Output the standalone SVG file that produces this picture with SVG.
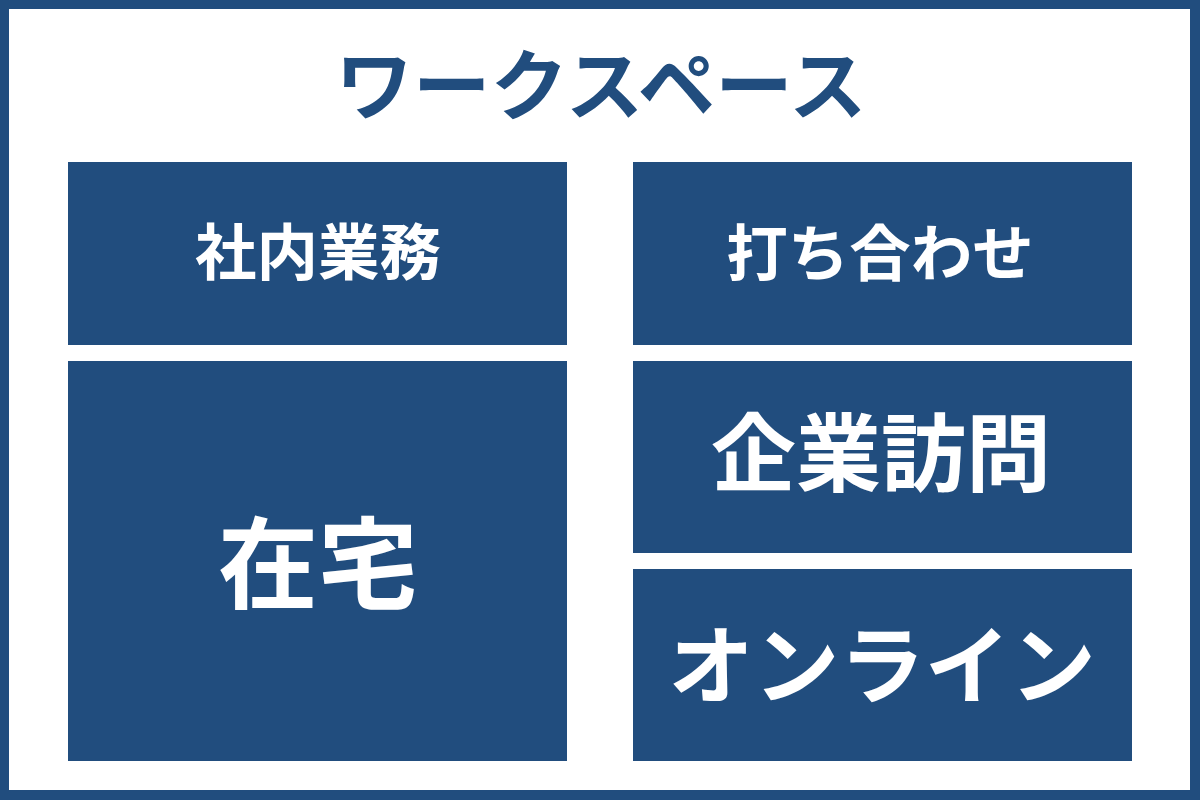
<svg xmlns="http://www.w3.org/2000/svg" width="1200" height="800" viewBox="0 0 1200 800">
<style>
.box{fill:#214d7e}
.t{font-family:"Noto Sans CJK JP","Noto Sans CJK SC",sans-serif;font-weight:700;text-anchor:middle;fill:#ffffff}
</style>
<rect x="0" y="0" width="1200" height="800" fill="#214d7e"/>
<rect x="9" y="9" width="1181" height="781" fill="#ffffff"/>
<text x="601" y="114" font-family="Noto Sans CJK JP, Noto Sans CJK SC, sans-serif" font-weight="700" font-size="77.5" text-anchor="middle" fill="#214d7e">ワークスペース</text>
<g id="n1"><rect class="box" x="68" y="162" width="499" height="183"/><text class="t" x="318" y="275" font-size="61.5">社内業務</text></g>
<g id="n2"><rect class="box" x="633" y="162" width="499" height="183"/><text class="t" x="880" y="276" font-size="61.5">打ち合わせ</text></g>
<g id="n3"><rect class="box" x="68" y="361" width="499" height="400"/><text class="t" x="318" y="601" font-size="100">在宅</text></g>
<g id="n4"><rect class="box" x="633" y="361" width="499" height="192"/><text class="t" x="881" y="485" font-size="85">企業訪問</text></g>
<g id="n5"><rect class="box" x="633" y="569" width="499" height="192"/><text class="t" x="882" y="697" font-size="85.5">オンライン</text></g>
<g id="connectors"/>
</svg>
